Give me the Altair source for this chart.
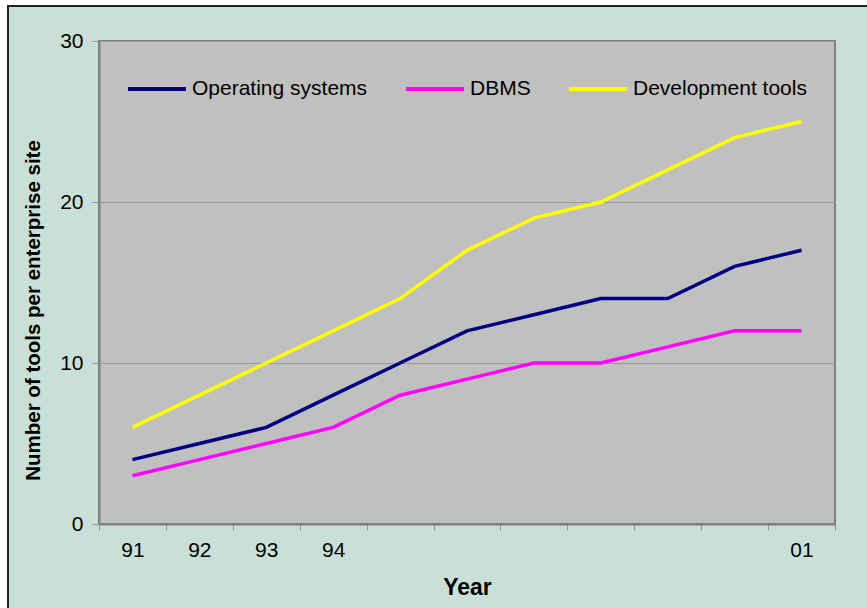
import altair as alt
import pandas as pd

# Survey years (two-digit) and the tool counts per enterprise site
years = ["91", "92", "93", "94", "95", "96", "97", "98", "99", "00", "01"]
shown_years = ["91", "92", "93", "94", "01"]
operating_systems = [4, 5, 6, 8, 10, 12, 13, 14, 14, 16, 17]
dbms = [3, 4, 5, 6, 8, 9, 10, 10, 11, 12, 12]
development_tools = [6, 8, 10, 12, 14, 17, 19, 20, 22, 24, 25]

series_names = ["Operating systems", "DBMS", "Development tools"]
series_colors = ["#000080", "#FF00FF", "#FFFF00"]
y_ticks = [0, 10, 20, 30]

rows = []
for name, values in zip(series_names, [operating_systems, dbms, development_tools]):
    for year, v in zip(years, values):
        rows.append({"Year": year, "Series": name, "Value": v})
df = pd.DataFrame(rows)

FONT = "Liberation Sans"
label_expr = "indexof(" + str(shown_years) + ", datum.value) >= 0 ? datum.value : ''"

W, H = 736, 483
PAD = {"left": 99, "top": 41, "right": 32, "bottom": 84}

lines = alt.Chart(df).mark_line(strokeWidth=3.5).encode(
    x=alt.X(
        "Year:O",
        sort=years,
        bandPosition=0.5,
        scale=alt.Scale(type="band", paddingInner=0, paddingOuter=0),
        axis=alt.Axis(
            title="Year",
            labelExpr=label_expr,
            labelAngle=0,
            tickBand="extent",
            tickSize=6,
            tickColor="#909090",
            tickWidth=1,
            domainColor="#808080",
            domainWidth=2,
            labelPadding=9,
            labelFont=FONT,
            labelFontSize=21,
            labelColor="black",
            titleFont=FONT,
            titleFontSize=23,
            titleFontWeight="bold",
            titleColor="black",
            titleX=W / 2,
            titleY=63,
            titleBaseline="middle",
            grid=False,
        ),
    ),
    y=alt.Y(
        "Value:Q",
        scale=alt.Scale(domain=[0, 30], nice=False),
        axis=alt.Axis(
            title="Number of tools per enterprise site",
            values=y_ticks,
            tickSize=7,
            tickColor="#909090",
            domainColor="#808080",
            domainWidth=2,
            labelPadding=9,
            labelFont=FONT,
            labelFontSize=21,
            labelColor="black",
            titleFont=FONT,
            titleFontSize=20.5,
            titleFontWeight="bold",
            titleColor="black",
            titleX=-66,
            titleY=269,
            titleAlign="center",
            titleBaseline="middle",
            grid=True,
            gridColor="#9C9C9C",
            gridWidth=1,
        ),
    ),
    color=alt.Color(
        "Series:N",
        sort=series_names,
        scale=alt.Scale(domain=series_names, range=series_colors),
        legend=alt.Legend(
            title=None,
            orient="none",
            legendX=27,
            legendY=17,
            direction="horizontal",
            symbolType="stroke",
            symbolSize=3364,
            symbolStrokeWidth=4,
            columnPadding=30,
            labelOffset=4,
            labelLimit=400,
            labelFont=FONT,
            labelFontSize=21,
            labelColor="black",
        ),
    ),
)

# Page frame: white margin on the left/top and a black edge line
one = alt.Data(values=[{}])
strip_left = alt.Chart(one).mark_rect(fill="white").encode(
    x=alt.value(-99), x2=alt.value(-91), y=alt.value(-41), y2=alt.value(567)
)
strip_top = alt.Chart(one).mark_rect(fill="white").encode(
    x=alt.value(-99), x2=alt.value(768), y=alt.value(-41), y2=alt.value(-35)
)
edge = alt.Chart(one).mark_rect(filled=False, stroke="#222222", strokeWidth=2).encode(
    x=alt.value(-91), x2=alt.value(800), y=alt.value(-35), y2=alt.value(620)
)

chart = (
    alt.layer(strip_left, strip_top, edge, lines)
    .properties(
        width=W,
        height=H,
        autosize=alt.AutoSizeParams(type="none"),
        padding=PAD,
        background="#C9E0D8",
    )
    .configure_view(fill="#C0C0C0", stroke="#808080", strokeWidth=2)
)

chart.save("out.html", embed_options={"renderer": "svg", "actions": False})
